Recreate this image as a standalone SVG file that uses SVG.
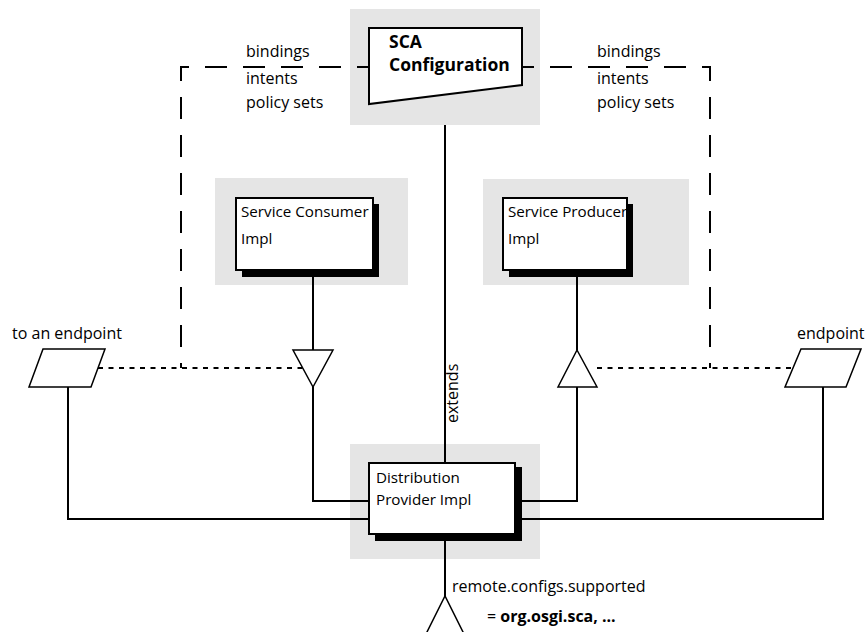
<svg xmlns="http://www.w3.org/2000/svg" width="866" height="632" viewBox="0 0 866 632">
<style>
  text { font-family: "Open Sans", "Noto Sans", sans-serif; font-size: 16px; fill: #000; }
  .bold { font-weight: bold; }
  .title { font-weight: bold; font-size: 17.5px; }
  .in { font-size: 15.2px; }
  .bg { fill: #e5e5e5; stroke: none; }
  .box { fill: #fff; stroke: #000; stroke-width: 2; }
  .shadow { fill: #000; stroke: none; }
  .ln { fill: none; stroke: #000; stroke-width: 2; }
  .dash { fill: none; stroke: #000; stroke-width: 2; stroke-dasharray: 22 16; stroke-dashoffset: 10; }
  .dot { fill: none; stroke: #000; stroke-width: 2; stroke-dasharray: 5 5.5; }
  .sym { fill: #fff; stroke: #000; stroke-width: 1.5; }
</style>

<rect class="bg" x="350" y="9" width="190" height="116"/>
<rect class="bg" x="215" y="178" width="193" height="107"/>
<rect class="bg" x="483" y="179" width="206" height="106"/>
<rect class="bg" x="350" y="444" width="190" height="115"/>

<g id="connectors">
  <path class="dash" d="M369,67 H181 V368"/>
  <path class="dash" d="M522,67 H710 V368"/>
  <path class="dot" d="M98,368 H303"/>
  <path class="dot" d="M597,368 H793"/>
  <path class="ln" d="M445,125 V463"/>
  <path class="ln" d="M313,277 V350"/>
  <path class="ln" d="M577,277 V350"/>
  <path class="ln" d="M313,387 V501 H369"/>
  <path class="ln" d="M68,387 V519 H369"/>
  <path class="ln" d="M577,387 V501 H515"/>
  <path class="ln" d="M823,387 V519 H515"/>
  <path class="ln" d="M445,540 V596"/>
  <text transform="translate(458,423) rotate(-90)">extends</text>
</g>

<g id="sca-config">
  <polygon class="box" points="369,28 522,28 522,85 369,104"/>
  <text class="title" x="389" y="48">SCA</text>
  <text class="title" x="389" y="71">Configuration</text>
</g>

<g id="labels-left">
  <text x="246" y="57">bindings</text>
  <text x="246" y="84">intents</text>
  <text x="246" y="108">policy sets</text>
</g>
<g id="labels-right">
  <text x="597" y="57">bindings</text>
  <text x="597" y="84">intents</text>
  <text x="597" y="108">policy sets</text>
</g>

<g id="service-consumer">
  <rect class="shadow" x="242" y="204" width="137" height="73"/>
  <rect class="box" x="236" y="198" width="137" height="72"/>
  <text class="in" x="241" y="217">Service Consumer</text>
  <text class="in" x="241" y="244">Impl</text>
</g>

<g id="service-producer">
  <rect class="shadow" x="509" y="204" width="124" height="73"/>
  <rect class="box" x="503" y="198" width="124" height="72"/>
  <text class="in" x="508" y="217">Service Producer</text>
  <text class="in" x="508" y="244">Impl</text>
</g>

<g id="consumer-port">
  <polygon class="sym" points="293,350 333,350 313,387"/>
</g>
<g id="producer-port">
  <polygon class="sym" points="577,350 558,387 597,387"/>
</g>

<g id="endpoint-left">
  <polygon class="sym" points="43,349 105,349 91,387 29,387"/>
  <text x="12" y="339">to an endpoint</text>
</g>
<g id="endpoint-right">
  <polygon class="sym" points="801,349 861,349 846,387 785,387"/>
  <text x="797" y="339">endpoint</text>
</g>

<g id="distribution-provider">
  <rect class="shadow" x="375" y="467" width="147" height="74"/>
  <rect class="box" x="369" y="463" width="146" height="71"/>
  <text class="in" x="376" y="483">Distribution</text>
  <text class="in" x="376" y="505">Provider Impl</text>
</g>

<g id="dist-port">
  <polyline class="sym" fill="none" points="425,636 445,596 465,636"/>
  <text x="452" y="592">remote.configs.supported</text>
  <text x="487" y="622">= <tspan class="bold">org.osgi.sca, ...</tspan></text>
</g>
</svg>
